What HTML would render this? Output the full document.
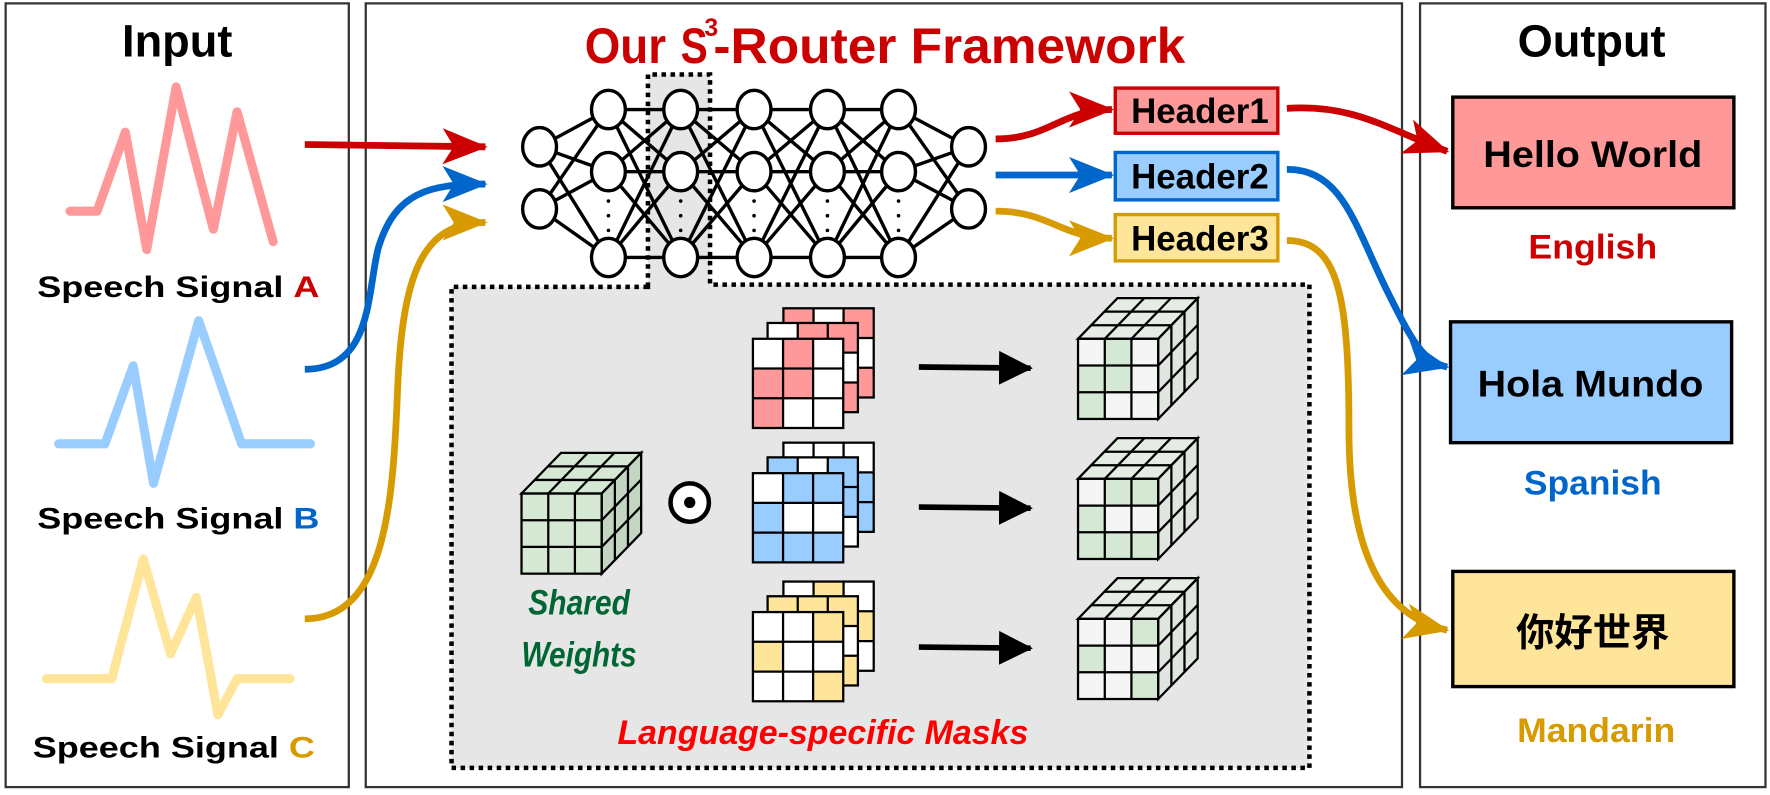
<!DOCTYPE html>
<html><head><meta charset="utf-8"><style>
html,body{margin:0;padding:0;background:#fff;}
svg{display:block;}
text{font-family:"Liberation Sans","Noto Sans CJK SC",sans-serif;font-weight:bold;}
</style></head><body>
<svg width="1770" height="795" viewBox="0 0 1568 704" preserveAspectRatio="none" xmlns="http://www.w3.org/2000/svg">
<defs>
<marker id="mr" markerUnits="userSpaceOnUse" markerWidth="40" markerHeight="32" viewBox="0 0 40 32" refX="38" refY="16" orient="auto"><path d="M0,0 L40,16 L0,32 L10,16 Z" fill="#cc0000"/></marker>
<marker id="mb" markerUnits="userSpaceOnUse" markerWidth="40" markerHeight="32" viewBox="0 0 40 32" refX="38" refY="16" orient="auto"><path d="M0,0 L40,16 L0,32 L10,16 Z" fill="#0066cc"/></marker>
<marker id="my" markerUnits="userSpaceOnUse" markerWidth="40" markerHeight="32" viewBox="0 0 40 32" refX="38" refY="16" orient="auto"><path d="M0,0 L40,16 L0,32 L10,16 Z" fill="#d79b00"/></marker>
<marker id="mk" markerUnits="userSpaceOnUse" markerWidth="30" markerHeight="30" viewBox="0 0 30 30" refX="28" refY="15" orient="auto"><path d="M0,0 L30,15 L0,30 Z" fill="#000"/></marker>
<g id="cubeLines" fill="none" stroke="#000" stroke-width="2">
<rect x="0" y="0" width="71" height="71"/>
<line x1="23.7" y1="0" x2="23.7" y2="71"/><line x1="47.3" y1="0" x2="47.3" y2="71"/>
<line x1="0" y1="23.7" x2="71" y2="23.7"/><line x1="0" y1="47.3" x2="71" y2="47.3"/>
<polygon points="0,0 71,0 106,-36 35,-36"/>
<polygon points="71,0 106,-36 106,35 71,71"/>
<line x1="23.7" y1="0" x2="58.7" y2="-36"/><line x1="47.3" y1="0" x2="82.3" y2="-36"/>
<line x1="11.7" y1="-12" x2="82.7" y2="-12"/><line x1="23.3" y1="-24" x2="94.3" y2="-24"/>
<line x1="82.7" y1="-12" x2="82.7" y2="59"/><line x1="94.3" y1="-24" x2="94.3" y2="47"/>
<line x1="71" y1="23.7" x2="106" y2="-12.3"/><line x1="71" y1="47.3" x2="106" y2="11.3"/>
</g>
<g id="maskGrid" fill="none" stroke="#000" stroke-width="2">
<rect x="0" y="0" width="80" height="79"/>
<line x1="26.7" y1="0" x2="26.7" y2="79"/><line x1="53.3" y1="0" x2="53.3" y2="79"/>
<line x1="0" y1="26.3" x2="80" y2="26.3"/><line x1="0" y1="52.7" x2="80" y2="52.7"/>
</g>
</defs>

<!-- panels -->
<rect x="5" y="3" width="304" height="694" fill="none" stroke="#333" stroke-width="2"/>
<rect x="324" y="3" width="918" height="694" fill="none" stroke="#333" stroke-width="2"/>
<rect x="1258" y="3" width="306" height="694" fill="none" stroke="#333" stroke-width="2"/>

<text x="157" y="50" font-size="40" text-anchor="middle">Input</text>
<text x="1410" y="50" font-size="40" text-anchor="middle">Output</text>
<text x="518" y="56" font-size="44" fill="#cc0000" textLength="72" lengthAdjust="spacingAndGlyphs">Our</text>
<text x="603" y="56" font-size="44" fill="#cc0000" textLength="24" lengthAdjust="spacingAndGlyphs">S</text>
<text x="624" y="32" font-size="22" fill="#cc0000">3</text>
<text x="632" y="56" font-size="44" fill="#cc0000" textLength="418" lengthAdjust="spacingAndGlyphs">-Router Framework</text>

<!-- waves -->
<g fill="none" stroke-width="8" stroke-linecap="round" stroke-linejoin="round">
<polyline stroke="#ff9999" points="62,187 86,187 111,117 130,221 156,77 189,203 210,99 242,214"/>
<polyline stroke="#99ccff" points="52,393 93,393 118,324 136,428 176,284 214,393 275,393"/>
<polyline stroke="#ffe599" points="41,601 99,601 127,495 151,579 174,529 193,633 210,601 257,601"/>
</g>
<text x="33" y="263" font-size="26" textLength="250" lengthAdjust="spacingAndGlyphs">Speech Signal <tspan fill="#cc0000">A</tspan></text>
<text x="33" y="468" font-size="26" textLength="250" lengthAdjust="spacingAndGlyphs">Speech Signal <tspan fill="#0066cc">B</tspan></text>
<text x="29" y="671" font-size="26" textLength="250" lengthAdjust="spacingAndGlyphs">Speech Signal <tspan fill="#d79b00">C</tspan></text>

<!-- big dashed box -->
<path d="M574,254 L400,254 L400,680 L1160,680 L1160,252 L629,252 L629,66 L574,66 Z" fill="#e6e6e6" stroke="none"/>
<path d="M574,254 L400,254 L400,680 L1160,680 L1160,252 L629,252 L629,66 L574,66 Z" fill="none" stroke="#000" stroke-width="4" stroke-dasharray="4,4"/>

<!-- NN connections -->
<g stroke="#000" stroke-width="3">
<line x1="478" y1="130" x2="539" y2="97"/><line x1="478" y1="130" x2="539" y2="152"/><line x1="478" y1="130" x2="539" y2="228"/>
<line x1="478" y1="185" x2="539" y2="97"/><line x1="478" y1="185" x2="539" y2="152"/><line x1="478" y1="185" x2="539" y2="228"/>
<line x1="539" y1="97" x2="603" y2="97"/><line x1="539" y1="97" x2="603" y2="152"/><line x1="539" y1="97" x2="603" y2="228"/>
<line x1="539" y1="152" x2="603" y2="97"/><line x1="539" y1="152" x2="603" y2="152"/><line x1="539" y1="152" x2="603" y2="228"/>
<line x1="539" y1="228" x2="603" y2="97"/><line x1="539" y1="228" x2="603" y2="152"/><line x1="539" y1="228" x2="603" y2="228"/>
<line x1="603" y1="97" x2="668" y2="97"/><line x1="603" y1="97" x2="668" y2="152"/><line x1="603" y1="97" x2="668" y2="228"/>
<line x1="603" y1="152" x2="668" y2="97"/><line x1="603" y1="152" x2="668" y2="152"/><line x1="603" y1="152" x2="668" y2="228"/>
<line x1="603" y1="228" x2="668" y2="97"/><line x1="603" y1="228" x2="668" y2="152"/><line x1="603" y1="228" x2="668" y2="228"/>
<line x1="668" y1="97" x2="733" y2="97"/><line x1="668" y1="97" x2="733" y2="152"/><line x1="668" y1="97" x2="733" y2="228"/>
<line x1="668" y1="152" x2="733" y2="97"/><line x1="668" y1="152" x2="733" y2="152"/><line x1="668" y1="152" x2="733" y2="228"/>
<line x1="668" y1="228" x2="733" y2="97"/><line x1="668" y1="228" x2="733" y2="152"/><line x1="668" y1="228" x2="733" y2="228"/>
<line x1="733" y1="97" x2="796" y2="97"/><line x1="733" y1="97" x2="796" y2="152"/><line x1="733" y1="97" x2="796" y2="228"/>
<line x1="733" y1="152" x2="796" y2="97"/><line x1="733" y1="152" x2="796" y2="152"/><line x1="733" y1="152" x2="796" y2="228"/>
<line x1="733" y1="228" x2="796" y2="97"/><line x1="733" y1="228" x2="796" y2="152"/><line x1="733" y1="228" x2="796" y2="228"/>
<line x1="796" y1="97" x2="858" y2="130"/><line x1="796" y1="97" x2="858" y2="185"/>
<line x1="796" y1="152" x2="858" y2="130"/><line x1="796" y1="152" x2="858" y2="185"/>
<line x1="796" y1="228" x2="858" y2="130"/><line x1="796" y1="228" x2="858" y2="185"/>
</g>
<g fill="#fff" stroke="#000" stroke-width="3">
<ellipse cx="478" cy="130" rx="15" ry="17"/><ellipse cx="478" cy="185" rx="15" ry="17"/>
<ellipse cx="539" cy="97" rx="15" ry="17"/><ellipse cx="539" cy="152" rx="15" ry="17"/><ellipse cx="539" cy="228" rx="15" ry="17"/>
<ellipse cx="603" cy="97" rx="15" ry="17"/><ellipse cx="603" cy="152" rx="15" ry="17"/><ellipse cx="603" cy="228" rx="15" ry="17"/>
<ellipse cx="668" cy="97" rx="15" ry="17"/><ellipse cx="668" cy="152" rx="15" ry="17"/><ellipse cx="668" cy="228" rx="15" ry="17"/>
<ellipse cx="733" cy="97" rx="15" ry="17"/><ellipse cx="733" cy="152" rx="15" ry="17"/><ellipse cx="733" cy="228" rx="15" ry="17"/>
<ellipse cx="796" cy="97" rx="15" ry="17"/><ellipse cx="796" cy="152" rx="15" ry="17"/><ellipse cx="796" cy="228" rx="15" ry="17"/>
<ellipse cx="858" cy="130" rx="15" ry="17"/><ellipse cx="858" cy="185" rx="15" ry="17"/>
</g>
<g fill="#000">
<circle cx="539" cy="178" r="1.6"/><circle cx="539" cy="191" r="1.6"/><circle cx="539" cy="204" r="1.6"/>
<circle cx="603" cy="178" r="1.6"/><circle cx="603" cy="191" r="1.6"/><circle cx="603" cy="204" r="1.6"/>
<circle cx="668" cy="178" r="1.6"/><circle cx="668" cy="191" r="1.6"/><circle cx="668" cy="204" r="1.6"/>
<circle cx="733" cy="178" r="1.6"/><circle cx="733" cy="191" r="1.6"/><circle cx="733" cy="204" r="1.6"/>
<circle cx="796" cy="178" r="1.6"/><circle cx="796" cy="191" r="1.6"/><circle cx="796" cy="204" r="1.6"/>
</g>

<!-- connectors -->
<g fill="none" stroke-width="6">
<path d="M270,128 L430,130" stroke="#cc0000" marker-end="url(#mr)"/>
<path d="M270,327 C330,327 325,260 335,220 C350,170 380,163 430,163" stroke="#0066cc" marker-end="url(#mb)"/>
<path d="M270,548 C340,548 348,450 352,350 C356,240 375,197 430,197" stroke="#d79b00" marker-end="url(#my)"/>
<path d="M882,123 C930,123 940,97 985,97" stroke="#cc0000" marker-end="url(#mr)"/>
<path d="M882,155 L985,155" stroke="#0066cc" marker-end="url(#mb)"/>
<path d="M882,187 C930,187 940,211 985,211" stroke="#d79b00" marker-end="url(#my)"/>
<path d="M1140,96 C1200,92 1230,115 1282,134" stroke="#cc0000" marker-end="url(#mr)"/>
<path d="M1140,150 C1190,150 1200,200 1230,260 C1250,300 1260,320 1282,325" stroke="#0066cc" marker-end="url(#mb)"/>
<path d="M1140,213 C1185,213 1195,260 1195,380 C1195,480 1220,545 1282,558" stroke="#d79b00" marker-end="url(#my)"/>
</g>

<!-- headers -->
<rect x="988" y="78" width="144" height="40" fill="#ff9999" stroke="#cc0000" stroke-width="3"/>
<rect x="988" y="135" width="144" height="42" fill="#99ccff" stroke="#0066cc" stroke-width="3"/>
<rect x="988" y="190" width="144" height="41" fill="#ffe599" stroke="#d79b00" stroke-width="3"/>
<text x="1002" y="109" font-size="31" textLength="122" lengthAdjust="spacingAndGlyphs">Header1</text>
<text x="1002" y="167" font-size="31" textLength="122" lengthAdjust="spacingAndGlyphs">Header2</text>
<text x="1002" y="222" font-size="31" textLength="122" lengthAdjust="spacingAndGlyphs">Header3</text>

<!-- outputs -->
<rect x="1287" y="86" width="249" height="98" fill="#ff9999" stroke="#000" stroke-width="3"/>
<text x="1411" y="148" font-size="33" text-anchor="middle" textLength="194" lengthAdjust="spacingAndGlyphs">Hello World</text>
<text x="1411" y="229" font-size="30" text-anchor="middle" fill="#cc0000" textLength="114" lengthAdjust="spacingAndGlyphs">English</text>
<rect x="1285" y="285" width="249" height="107" fill="#99ccff" stroke="#000" stroke-width="3"/>
<text x="1409" y="351" font-size="33" text-anchor="middle" textLength="200" lengthAdjust="spacingAndGlyphs">Hola Mundo</text>
<text x="1411" y="438" font-size="30" text-anchor="middle" fill="#0066cc" textLength="122" lengthAdjust="spacingAndGlyphs">Spanish</text>
<rect x="1287" y="506" width="249" height="102" fill="#ffe599" stroke="#000" stroke-width="3"/>
<text x="1411" y="572" font-size="34" text-anchor="middle">你好世界</text>
<text x="1414" y="657" font-size="30" text-anchor="middle" fill="#d79b00" textLength="140" lengthAdjust="spacingAndGlyphs">Mandarin</text>

<!-- shared weights cube -->
<g transform="translate(462,437)">
<polygon points="0,0 71,0 106,-36 35,-36" fill="#d5e8d4"/>
<polygon points="71,0 106,-36 106,35 71,71" fill="#c3d6c2"/>
<rect x="0" y="0" width="71" height="71" fill="#d5e8d4"/>
<use href="#cubeLines"/>
</g>
<circle cx="611" cy="445" r="17" fill="#fff" stroke="#000" stroke-width="4"/>
<circle cx="611" cy="445" r="5" fill="#000"/>
<text x="513" y="544" font-size="31" fill="#006633" font-style="italic" text-anchor="middle" textLength="90" lengthAdjust="spacingAndGlyphs">Shared</text>
<text x="513" y="590" font-size="31" fill="#006633" font-style="italic" text-anchor="middle" textLength="102" lengthAdjust="spacingAndGlyphs">Weights</text>
<text x="729" y="659" font-size="30" fill="#ff0000" font-style="italic" text-anchor="middle" textLength="364" lengthAdjust="spacingAndGlyphs">Language-specific Masks</text>

<!-- red mask stack -->
<g transform="translate(694,273)"><rect width="80" height="79" fill="#fff"/>
<rect x="0" y="0" width="26.7" height="26.3" fill="#ff9999"/><rect x="53.3" y="0" width="26.7" height="26.3" fill="#ff9999"/><rect x="53.3" y="52.7" width="26.7" height="26.3" fill="#ff9999"/><use href="#maskGrid"/></g>
<g transform="translate(680,286)"><rect width="80" height="79" fill="#fff"/>
<rect x="26.7" y="0" width="26.7" height="26.3" fill="#ff9999"/><rect x="53.3" y="0" width="26.7" height="26.3" fill="#ff9999"/><rect x="53.3" y="52.7" width="26.7" height="26.3" fill="#ff9999"/><use href="#maskGrid"/></g>
<g transform="translate(667,300)"><rect width="80" height="79" fill="#fff"/>
<rect x="26.7" y="0" width="26.7" height="26.3" fill="#ff9999"/><rect x="0" y="26.3" width="53.3" height="26.3" fill="#ff9999"/><rect x="0" y="52.7" width="26.7" height="26.3" fill="#ff9999"/><use href="#maskGrid"/></g>

<!-- blue mask stack -->
<g transform="translate(694,392)"><rect width="80" height="79" fill="#fff"/>
<rect x="53.3" y="26.3" width="26.7" height="52.7" fill="#99ccff"/><use href="#maskGrid"/></g>
<g transform="translate(680,405)"><rect width="80" height="79" fill="#fff"/>
<rect x="0" y="0" width="26.7" height="26.3" fill="#99ccff"/><rect x="53.3" y="0" width="26.7" height="52.7" fill="#99ccff"/><use href="#maskGrid"/></g>
<g transform="translate(667,419)"><rect width="80" height="79" fill="#fff"/>
<rect x="26.7" y="0" width="53.3" height="26.3" fill="#99ccff"/><rect x="0" y="26.3" width="26.7" height="26.3" fill="#99ccff"/><rect x="0" y="52.7" width="80" height="26.3" fill="#99ccff"/><use href="#maskGrid"/></g>

<!-- yellow mask stack -->
<g transform="translate(694,515)"><rect width="80" height="79" fill="#fff"/>
<rect x="26.7" y="0" width="26.7" height="26.3" fill="#ffe599"/><rect x="53.3" y="26.3" width="26.7" height="26.3" fill="#ffe599"/><use href="#maskGrid"/></g>
<g transform="translate(680,528)"><rect width="80" height="79" fill="#fff"/>
<rect x="0" y="0" width="80" height="26.3" fill="#ffe599"/><rect x="53.3" y="52.7" width="26.7" height="26.3" fill="#ffe599"/><use href="#maskGrid"/></g>
<g transform="translate(667,542)"><rect width="80" height="79" fill="#fff"/>
<rect x="53.3" y="0" width="26.7" height="26.3" fill="#ffe599"/><rect x="0" y="26.3" width="26.7" height="26.3" fill="#ffe599"/><rect x="53.3" y="52.7" width="26.7" height="26.3" fill="#ffe599"/><use href="#maskGrid"/></g>

<!-- arrows -->
<g stroke="#000" stroke-width="5" fill="none">
<line x1="814" y1="325" x2="913" y2="326" marker-end="url(#mk)"/>
<line x1="814" y1="449" x2="913" y2="450" marker-end="url(#mk)"/>
<line x1="814" y1="573" x2="913" y2="574" marker-end="url(#mk)"/>
</g>

<!-- result cubes -->
<g transform="translate(955,300)">
<polygon points="0,0 71,0 106,-36 35,-36" fill="#e4ece3"/>
<polygon points="71,0 106,-36 106,35 71,71" fill="#e0e6df"/>
<rect x="0" y="0" width="71" height="71" fill="#f5f5f5"/>
<rect x="23.7" y="0" width="23.6" height="47.3" fill="#d5e8d4"/><rect x="0" y="23.7" width="23.7" height="47.3" fill="#d5e8d4"/>
<use href="#cubeLines"/></g>
<g transform="translate(955,424)">
<polygon points="0,0 71,0 106,-36 35,-36" fill="#e4ece3"/>
<polygon points="71,0 106,-36 106,35 71,71" fill="#e0e6df"/>
<rect x="0" y="0" width="71" height="71" fill="#f5f5f5"/>
<rect x="23.7" y="0" width="47.3" height="23.7" fill="#d5e8d4"/><rect x="0" y="23.7" width="23.7" height="23.6" fill="#d5e8d4"/><rect x="0" y="47.3" width="71" height="23.7" fill="#d5e8d4"/>
<use href="#cubeLines"/></g>
<g transform="translate(955,548)">
<polygon points="0,0 71,0 106,-36 35,-36" fill="#e4ece3"/>
<polygon points="71,0 106,-36 106,35 71,71" fill="#e0e6df"/>
<rect x="0" y="0" width="71" height="71" fill="#f5f5f5"/>
<rect x="47.3" y="0" width="23.7" height="23.7" fill="#d5e8d4"/><rect x="0" y="23.7" width="23.7" height="23.6" fill="#d5e8d4"/><rect x="47.3" y="47.3" width="23.7" height="23.7" fill="#d5e8d4"/>
<use href="#cubeLines"/></g>
</svg>
</body></html>
